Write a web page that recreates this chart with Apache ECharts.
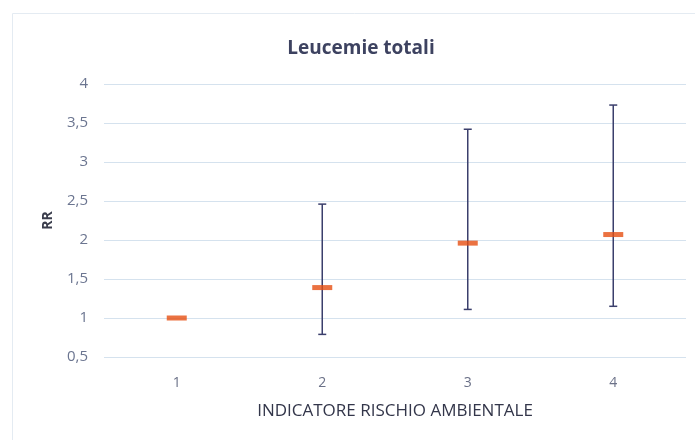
<!DOCTYPE html>
<html>
<head>
<meta charset="utf-8">
<script src="https://cdn.jsdelivr.net/npm/echarts@6/dist/echarts.min.js"></script>
<style>
html,body{margin:0;padding:0;background:#fff;}
#chart{width:695px;height:440px;}
</style>
</head>
<body>
<div id="chart"></div>
<script>
const categories = ['1', '2', '3', '4'];
const rrValues = [1.0, 1.39, 1.96, 2.07];
const lowerCI = [null, 0.79, 1.11, 1.15];
const upperCI = [null, 2.46, 3.42, 3.73];
const yMin = 0.5, yMax = 4, yStep = 0.5;

const errData = categories.map((c, i) => [i, lowerCI[i], upperCI[i]]).filter(d => d[1] != null);

const chart = echarts.init(document.getElementById('chart'), null, {renderer: 'canvas'});
chart.setOption({
  animation: false,
  backgroundColor: '#ffffff',
  graphic: [{
    type: 'rect', shape: {x: 12.5, y: 13.5, width: 690, height: 430},
    style: {fill: 'none', stroke: '#e4ebf2', lineWidth: 1}, silent: true
  }],
  title: {
    text: 'Leucemie totali',
    left: 356, top: 34, textAlign: 'center',
    textStyle: {fontFamily: 'Open Sans', fontSize: 19, fontWeight: 'bold', color: '#3d4260'}
  },
  grid: {left: 104, right: 9, top: 84, bottom: 83, containLabel: false},
  xAxis: {
    type: 'category', data: categories,
    name: 'INDICATORE RISCHIO AMBIENTALE', nameLocation: 'middle', nameGap: 46,
    nameTextStyle: {fontFamily: 'Open Sans', fontSize: 17, color: '#33364a'},
    axisLine: {show: false}, axisTick: {show: false},
    axisLabel: {fontFamily: 'Open Sans', fontSize: 14, color: '#6b7188', margin: 19},
    splitLine: {show: false}
  },
  yAxis: {
    type: 'value', min: yMin, max: yMax, interval: yStep,
    name: 'RR', nameLocation: 'middle', nameGap: 49, nameRotate: 90,
    nameTextStyle: {fontFamily: 'Open Sans', fontSize: 14, fontWeight: 'bold', color: '#3a3d4c'},
    axisLine: {show: false}, axisTick: {show: false},
    axisLabel: {fontFamily: 'Open Sans', fontSize: 15, color: '#6b7590', margin: 16,
      formatter: v => String(v).replace('.', ',')},
    splitLine: {lineStyle: {color: '#d5e2ee', width: 1}}
  },
  series: [
    {
      type: 'custom',
      data: errData,
      z: 2,
      renderItem: function (params, api) {
        const x = api.value(0);
        const lo = api.coord([x, api.value(1)]);
        const hi = api.coord([x, api.value(2)]);
        const cap = 4;
        const style = {stroke: '#3b3f6c', lineWidth: 1.5};
        return {
          type: 'group',
          children: [
            {type: 'line', shape: {x1: lo[0], y1: lo[1], x2: hi[0], y2: hi[1]}, style: style},
            {type: 'line', shape: {x1: hi[0] - cap, y1: hi[1], x2: hi[0] + cap, y2: hi[1]}, style: style},
            {type: 'line', shape: {x1: lo[0] - cap, y1: lo[1], x2: lo[0] + cap, y2: lo[1]}, style: style}
          ]
        };
      }
    },
    {
      type: 'scatter',
      data: rrValues,
      symbol: 'rect',
      symbolSize: [20, 5],
      z: 3,
      itemStyle: {color: '#e64f12'}
    }
  ]
});
</script>
</body>
</html>
